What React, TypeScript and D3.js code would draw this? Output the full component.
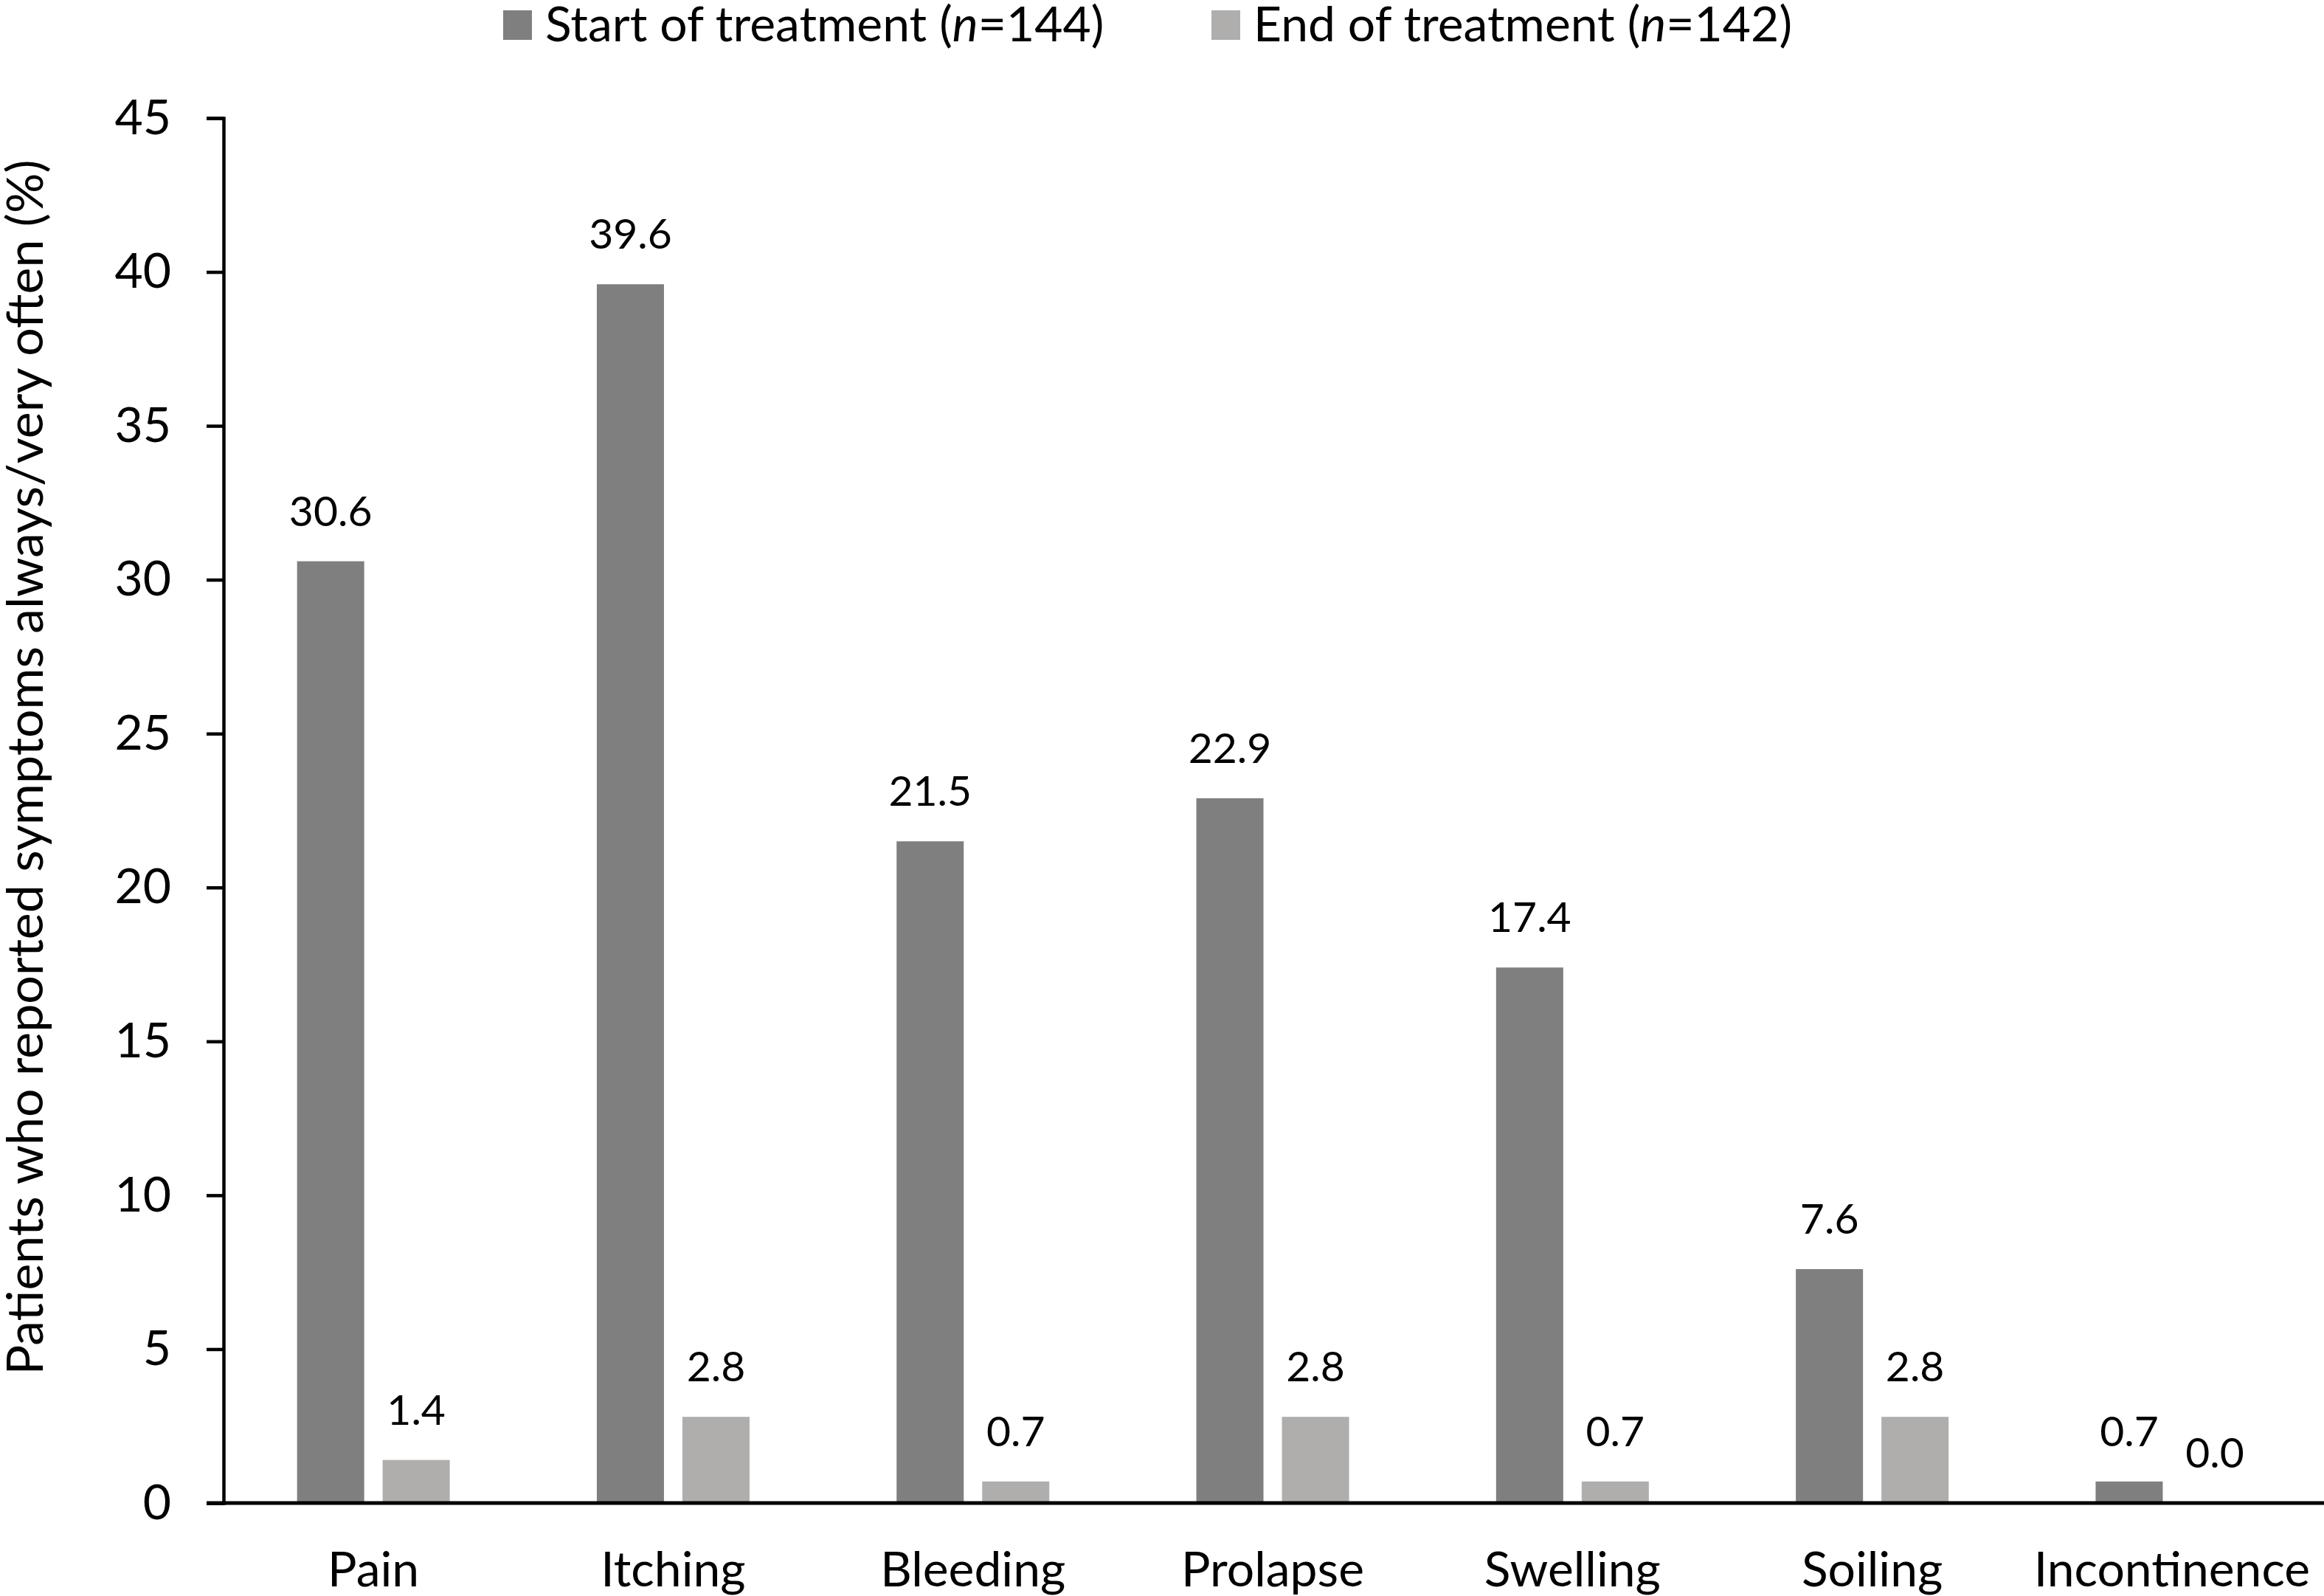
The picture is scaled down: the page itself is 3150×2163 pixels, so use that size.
import React, {useEffect, useRef} from 'react';
import * as d3 from 'd3';

const categories = ['Pain', 'Itching', 'Bleeding', 'Prolapse', 'Swelling', 'Soiling', 'Incontinence'];
const startValues = [30.6, 39.6, 21.5, 22.9, 17.4, 7.6, 0.7];
const endValues = [1.4, 2.8, 0.7, 2.8, 0.7, 2.8, 0.0];
const yTicks = [0, 5, 10, 15, 20, 25, 30, 35, 40, 45];
const seriesNames = ['Start of treatment', 'End of treatment'];
const seriesN = [144, 142];
const seriesColors = ['#7f7f7f', '#b0adad'];

const W = 3150;
const H = 2163;
const FONT = 'Lato, "Open Sans", sans-serif';

const App: React.FC = () => {
    const ref = useRef<SVGSVGElement>(null);
    useEffect(() => {
        const svg = d3.select(ref.current);
        svg.selectAll('*').remove();

        const x0 = 303;
        const yScale = d3.scaleLinear().domain([0, 45]).range([2037, 160]);
        const xScale = d3.scaleBand().domain(categories).range([x0, x0 + 7 * 406.3]).paddingInner(0).paddingOuter(0);
        // two bars of ~91px with a ~25px gap, centred on each category
        const inner = d3.scaleBand().domain(['0', '1']).range([-103.5, 103.5]).paddingInner(0.2155).paddingOuter(0);

        const rows = categories.map((c, i) => ({cat: c, vals: [startValues[i], endValues[i]]}));

        // bars
        const groups = svg.selectAll('.grp')
            .data(rows)
            .enter()
            .append('g')
            .attr('class', 'grp')
            .attr('transform', (d) => `translate(${xScale(d.cat)! + xScale.bandwidth() / 2},0)`);

        groups.selectAll('rect')
            .data((d) => d.vals.map((v, k) => ({v, k})))
            .enter()
            .append('rect')
            .attr('x', (d) => inner(String(d.k))!)
            .attr('y', (d) => yScale(d.v))
            .attr('width', inner.bandwidth())
            .attr('height', (d) => yScale(0) - yScale(d.v))
            .attr('fill', (d) => seriesColors[d.k]);

        groups.selectAll('text.lbl')
            .data((d) => d.vals.map((v, k) => ({v, k})))
            .enter()
            .append('text')
            .attr('class', 'lbl')
            .attr('x', (d) => inner(String(d.k))! + inner.bandwidth() / 2)
            .attr('y', (d) => yScale(d.v) - 48)
            .attr('text-anchor', 'middle')
            .attr('font-family', FONT)
            .attr('font-size', 57)
            .attr('fill', '#000')
            .text((d) => d.v.toFixed(1));

        // y axis
        const yAxis = svg.append('g').attr('transform', `translate(${x0},0)`)
            .call(d3.axisLeft(yScale).tickValues(yTicks).tickSize(23).tickPadding(48).tickFormat(d3.format('d')));
        yAxis.select('.domain').attr('stroke', '#000').attr('stroke-width', 4.5);
        yAxis.selectAll('.tick line').attr('stroke', '#000').attr('stroke-width', 4.5);
        yAxis.selectAll('.tick text')
            .attr('font-family', FONT)
            .attr('font-size', 66)
            .attr('fill', '#000');

        // x axis line
        svg.append('line')
            .attr('x1', x0 - 23)
            .attr('x2', W)
            .attr('y1', yScale(0))
            .attr('y2', yScale(0))
            .attr('stroke', '#000')
            .attr('stroke-width', 5);

        svg.selectAll('.cat')
            .data(categories)
            .enter()
            .append('text')
            .attr('class', 'cat')
            .attr('x', (d) => xScale(d)! + xScale.bandwidth() / 2)
            .attr('y', 2150)
            .attr('text-anchor', 'middle')
            .attr('font-family', FONT)
            .attr('font-size', 66)
            .attr('fill', '#000')
            .text((d) => d);

        // y title
        svg.append('text')
            .attr('transform', 'translate(58,1040) rotate(-90)')
            .attr('text-anchor', 'middle')
            .attr('font-family', FONT)
            .attr('font-size', 68)
            .attr('fill', '#000')
            .text('Patients who reported symptoms always/very often (%)');

        // legend
        const legendX = [682, 1642];
        seriesNames.forEach((name, k) => {
            svg.append('rect')
                .attr('x', legendX[k])
                .attr('y', 14)
                .attr('width', 39)
                .attr('height', 40)
                .attr('fill', seriesColors[k]);
            const t = svg.append('text')
                .attr('x', legendX[k] + 57)
                .attr('y', 56)
                .attr('font-family', FONT)
                .attr('font-size', 66)
                .attr('fill', '#000');
            t.append('tspan').text(`${name} (`);
            t.append('tspan').attr('font-style', 'italic').text('n');
            t.append('tspan').text(`=${seriesN[k]})`);
        });
    }, []);

    return (
        <svg ref={ref} width={W} height={H}
             style={{position: 'absolute', left: 0, top: 0, background: '#fff'}} />
    );
};

export default App;
